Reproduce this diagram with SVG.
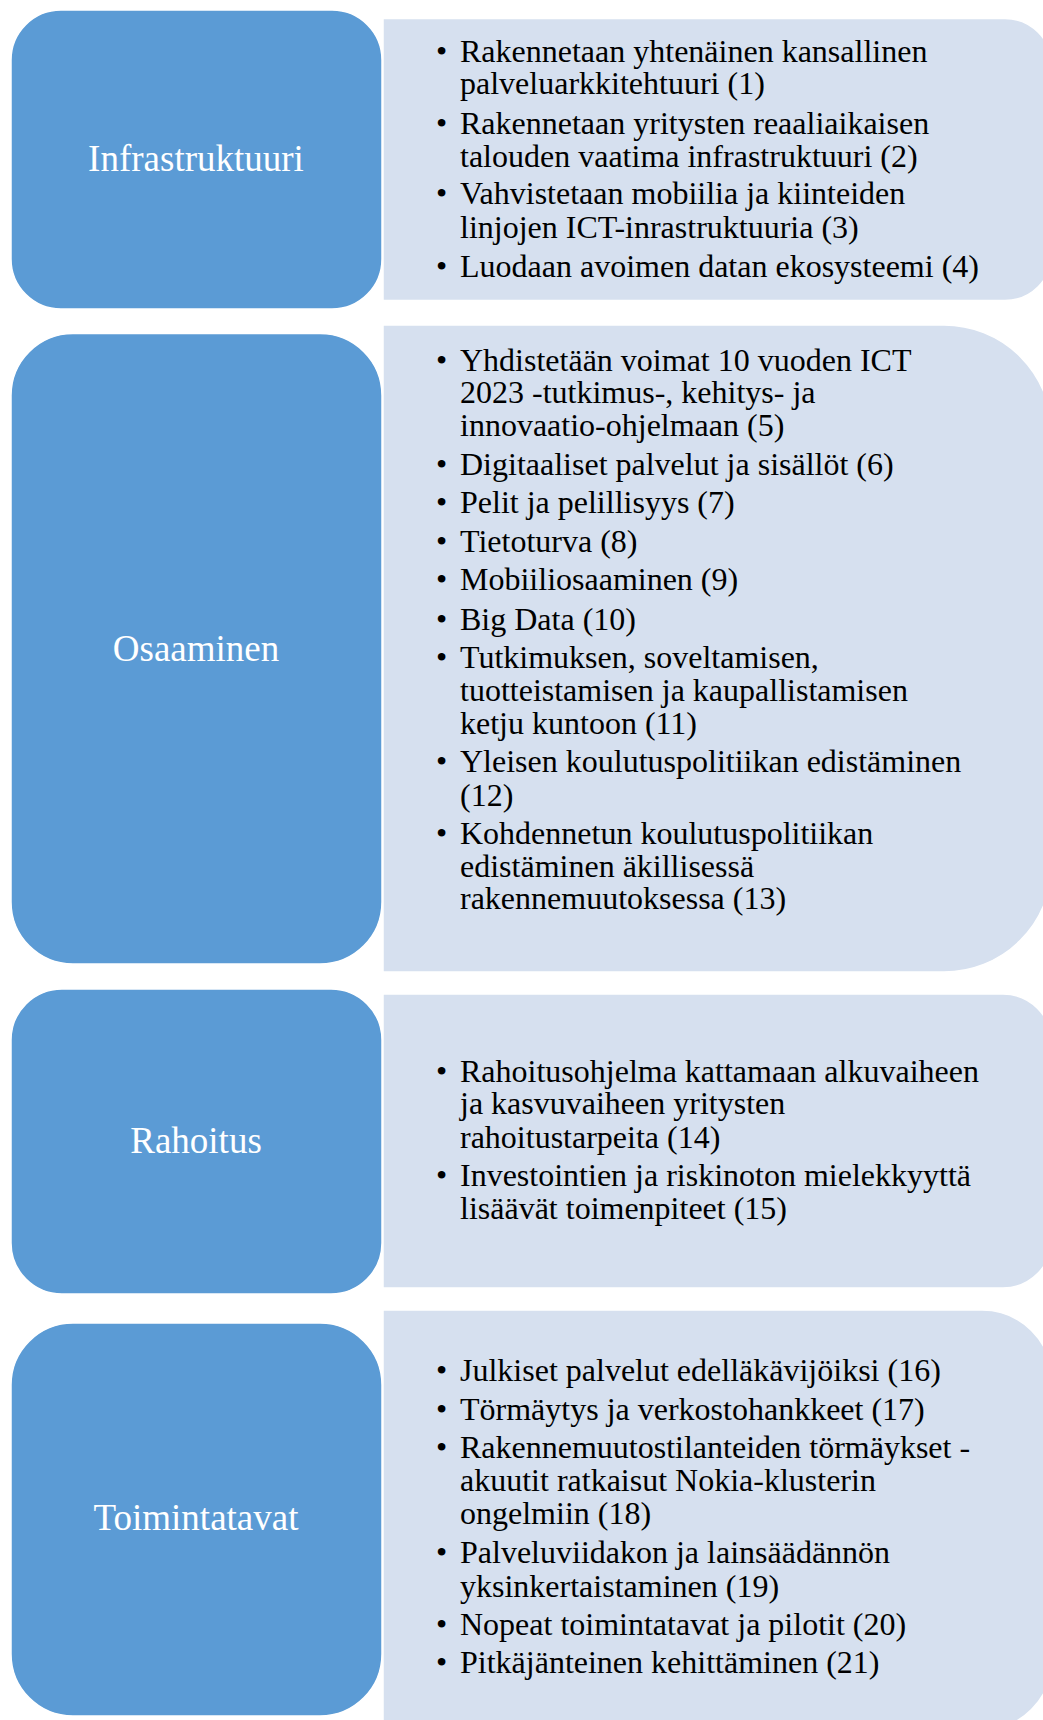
<svg xmlns="http://www.w3.org/2000/svg" width="1043" height="1720" viewBox="0 0 1043 1720">
<style>
.box{fill:#5B9BD5;stroke:#FFFFFF;stroke-width:1.5}
.panel{fill:#D6E0EF;stroke:#FFFFFF;stroke-width:1.5}
.lbl{font-family:"Liberation Serif","Times New Roman",serif;font-size:37px;fill:#FFFFFF;text-anchor:middle}
.t{font-family:"Liberation Serif","Times New Roman",serif;font-size:32px;fill:#000000}
</style>
<rect width="1043" height="1720" fill="#FFFFFF"/>
<g id="connectors"></g>

<g id="node-infrastruktuuri">
<rect class="box" x="11" y="10" width="371" height="299" rx="50" ry="50"/>
<text class="lbl" x="196" y="171">Infrastruktuuri</text>
</g>
<g id="panel-infrastruktuuri">
<path class="panel" d="M383 18.5 H1005 A47 47 0 0 1 1052 65.5 V253.5 A47 47 0 0 1 1005 300.5 H383 Z"/>
<text class="t"><tspan x="436" y="62.3">•</tspan><tspan x="460" y="62.3">Rakennetaan yhtenäinen kansallinen</tspan><tspan x="460" y="94.3">palveluarkkitehtuuri (1)</tspan></text>
<text class="t"><tspan x="436" y="134">•</tspan><tspan x="460" y="134">Rakennetaan yritysten reaaliaikaisen</tspan><tspan x="460" y="166.7">talouden vaatima infrastruktuuri (2)</tspan></text>
<text class="t"><tspan x="436" y="204">•</tspan><tspan x="460" y="204">Vahvistetaan mobiilia ja kiinteiden</tspan><tspan x="460" y="238.3">linjojen ICT-inrastruktuuria (3)</tspan></text>
<text class="t"><tspan x="436" y="276.7">•</tspan><tspan x="460" y="276.7">Luodaan avoimen datan ekosysteemi (4)</tspan></text>
</g>

<g id="node-osaaminen">
<rect class="box" x="11" y="333.5" width="371" height="630.5" rx="62" ry="62"/>
<text class="lbl" x="196" y="661">Osaaminen</text>
</g>
<g id="panel-osaaminen">
<path class="panel" d="M383 325 H944 A108 108 0 0 1 1052 433 V864 A108 108 0 0 1 944 972 H383 Z"/>
<text class="t"><tspan x="436" y="370.5">•</tspan><tspan x="460" y="370.5">Yhdistetään voimat 10 vuoden ICT</tspan><tspan x="460" y="403">2023 -tutkimus-, kehitys- ja</tspan><tspan x="460" y="435.7">innovaatio-ohjelmaan (5)</tspan></text>
<text class="t"><tspan x="436" y="474.5">•</tspan><tspan x="460" y="474.5">Digitaaliset palvelut ja sisällöt (6)</tspan></text>
<text class="t"><tspan x="436" y="513">•</tspan><tspan x="460" y="513">Pelit ja pelillisyys (7)</tspan></text>
<text class="t"><tspan x="436" y="552">•</tspan><tspan x="460" y="552">Tietoturva (8)</tspan></text>
<text class="t"><tspan x="436" y="590">•</tspan><tspan x="460" y="590">Mobiiliosaaminen (9)</tspan></text>
<text class="t"><tspan x="436" y="629.5">•</tspan><tspan x="460" y="629.5">Big Data (10)</tspan></text>
<text class="t"><tspan x="436" y="668">•</tspan><tspan x="460" y="668">Tutkimuksen, soveltamisen,</tspan><tspan x="460" y="701">tuotteistamisen ja kaupallistamisen</tspan><tspan x="460" y="734">ketju kuntoon (11)</tspan></text>
<text class="t"><tspan x="436" y="772">•</tspan><tspan x="460" y="772">Yleisen koulutuspolitiikan edistäminen</tspan><tspan x="460" y="806">(12)</tspan></text>
<text class="t"><tspan x="436" y="843.6">•</tspan><tspan x="460" y="843.6">Kohdennetun koulutuspolitiikan</tspan><tspan x="460" y="876.6">edistäminen äkillisessä</tspan><tspan x="460" y="909.2">rakennemuutoksessa (13)</tspan></text>
</g>

<g id="node-rahoitus">
<rect class="box" x="11" y="989" width="371" height="305" rx="51" ry="51"/>
<text class="lbl" x="196" y="1152.5">Rahoitus</text>
</g>
<g id="panel-rahoitus">
<path class="panel" d="M383 994 H1003 A49 49 0 0 1 1052 1043 V1239 A49 49 0 0 1 1003 1288 H383 Z"/>
<text class="t"><tspan x="436" y="1082">•</tspan><tspan x="460" y="1082">Rahoitusohjelma kattamaan alkuvaiheen</tspan><tspan x="460" y="1114.3">ja kasvuvaiheen yritysten</tspan><tspan x="460" y="1147.5">rahoitustarpeita (14)</tspan></text>
<text class="t"><tspan x="436" y="1186">•</tspan><tspan x="460" y="1186">Investointien ja riskinoton mielekkyyttä</tspan><tspan x="460" y="1219">lisäävät toimenpiteet (15)</tspan></text>
</g>

<g id="node-toimintatavat">
<rect class="box" x="11" y="1323" width="371" height="393" rx="62" ry="62"/>
<text class="lbl" x="196" y="1530">Toimintatavat</text>
</g>
<g id="panel-toimintatavat">
<path class="panel" d="M383 1310 H982 A70 70 0 0 1 1052 1380 V1660 A70 70 0 0 1 982 1730 H383 Z"/>
<text class="t"><tspan x="436" y="1381">•</tspan><tspan x="460" y="1381">Julkiset palvelut edelläkävijöiksi (16)</tspan></text>
<text class="t"><tspan x="436" y="1420">•</tspan><tspan x="460" y="1420">Törmäytys ja verkostohankkeet (17)</tspan></text>
<text class="t"><tspan x="436" y="1458">•</tspan><tspan x="460" y="1458">Rakennemuutostilanteiden törmäykset -</tspan><tspan x="460" y="1491">akuutit ratkaisut Nokia-klusterin</tspan><tspan x="460" y="1524">ongelmiin (18)</tspan></text>
<text class="t"><tspan x="436" y="1562.5">•</tspan><tspan x="460" y="1562.5">Palveluviidakon ja lainsäädännön</tspan><tspan x="460" y="1596.5">yksinkertaistaminen (19)</tspan></text>
<text class="t"><tspan x="436" y="1635">•</tspan><tspan x="460" y="1635">Nopeat toimintatavat ja pilotit (20)</tspan></text>
<text class="t"><tspan x="436" y="1673">•</tspan><tspan x="460" y="1673">Pitkäjänteinen kehittäminen (21)</tspan></text>
</g>
</svg>
